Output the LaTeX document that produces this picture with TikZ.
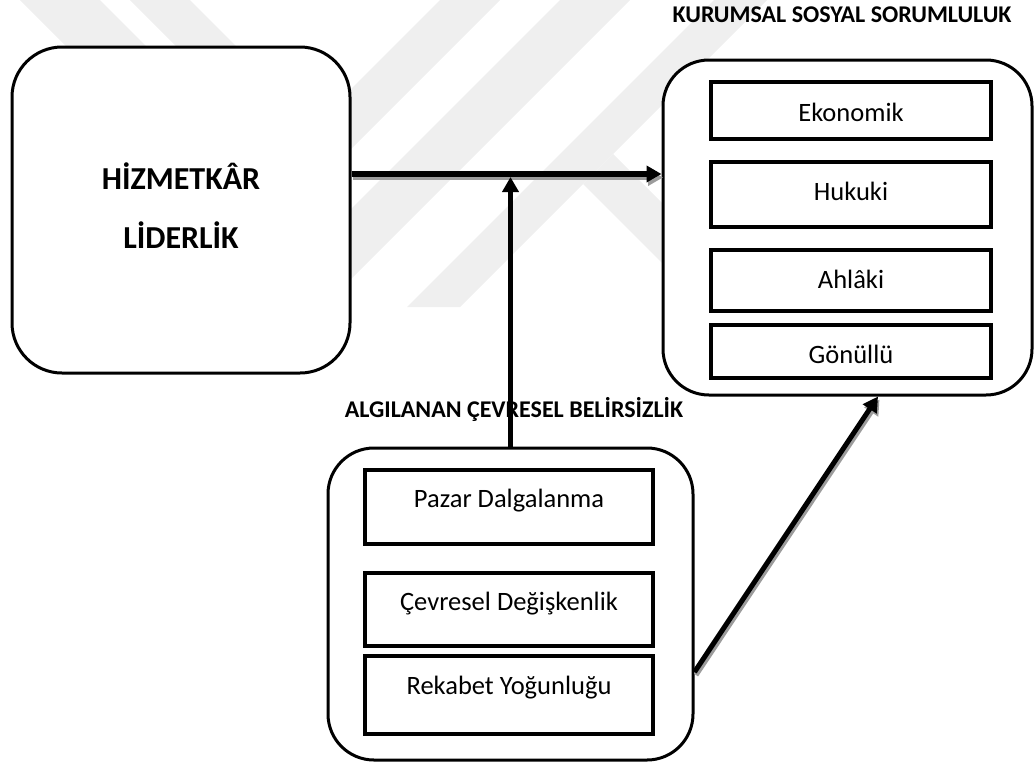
\documentclass[tikz,border=0pt]{standalone}
\usepackage{fontspec}
\setmainfont{Carlito}
\usetikzlibrary{arrows.meta,calc}
\definecolor{wm}{HTML}{EFEFEF}
\definecolor{shade}{HTML}{9C9C9C}

\begin{document}
\begin{tikzpicture}[x=1pt,y=-1pt,
  outerbox/.style={draw, line width=3pt, rounded corners=46pt, fill=white, inner sep=0pt},
  itembox/.style={draw, line width=3.5pt, fill=white, inner sep=0pt},
  itemtext/.style={anchor=base, inner sep=0pt, font=\fontsize{26.5}{30}\selectfont},
  titletext/.style={anchor=base, inner sep=0pt, font=\fontsize{24}{28}\selectfont\bfseries},
  bigtext/.style={anchor=base, inner sep=0pt, font=\fontsize{32}{36}\selectfont\bfseries},
  conn/.style={line width=5.5pt, -{Triangle[length=15pt,width=16pt]}},
  shadowconn/.style={conn, draw=shade, fill=shade}]

\useasboundingbox (0,0) rectangle (1036,764);

% faint background stripes
\begin{scope}
  \clip (0,0) rectangle (1036,764);
  \fill[wm] (20,0) -- (100,0) -- (147,47) -- (67,47) -- cycle;
  \fill[wm] (130,0) -- (190,0) -- (237,47) -- (177,47) -- cycle;
  \fill[wm] (440,0) -- (500,0) -- (350,150) -- (350,90) -- cycle;
  \fill[wm] (560,0) -- (630,0) -- (350,280) -- (350,210) -- cycle;
  \fill[wm] (714,0) -- (767,0) -- (460,307) -- (407,307) -- cycle;
  \fill[wm] (613,154) -- (583,184) -- (663,264) -- (663,204) -- cycle;
\end{scope}

% left block
\node[outerbox, minimum width=338pt, minimum height=326pt, rounded corners=50pt] (lbox) at (181,210) {};
\node[bigtext] (lt1) at (181,189) {HİZMETKÂR};
\node[bigtext] (lt2) at (181,248) {LİDERLİK};

% right block
\node[titletext] (rtitle) at (842,22) {KURUMSAL SOSYAL SORUMLULUK};
\node[outerbox, minimum width=369pt, minimum height=335pt] (rbox) at (847.5,227.5) {};
\node[itembox, minimum width=280pt, minimum height=57pt] (r1) at (851,110.5) {};
\node[itembox, minimum width=280pt, minimum height=65pt] (r2) at (851,194.5) {};
\node[itembox, minimum width=280pt, minimum height=61pt] (r3) at (851,280.5) {};
\node[itembox, minimum width=280pt, minimum height=53pt] (r4) at (851,351.5) {};
\node[itemtext] (r1t) at (851,121) {Ekonomik};
\node[itemtext] (r2t) at (851,200) {Hukuki};
\node[itemtext] (r3t) at (851,288) {Ahlâki};
\node[itemtext] (r4t) at (851,363) {Gönüllü};

% bottom block
\node[titletext] (btitle) at (514,417) {ALGILANAN ÇEVRESEL BELİRSİZLİK};
\node[outerbox, minimum width=365pt, minimum height=312pt] (bbox) at (510.5,604) {};
\node[itembox, minimum width=288pt, minimum height=74pt] (b1) at (509,507) {};
\node[itembox, minimum width=288pt, minimum height=73pt] (b2) at (509,609.5) {};
\node[itembox, minimum width=288pt, minimum height=78pt] (b3) at (509,695) {};
\node[itemtext] (b1t) at (509,507) {Pazar Dalgalanma};
\node[itemtext] (b2t) at (509,610) {Çevresel Değişkenlik};
\node[itemtext] (b3t) at (509,694) {Rekabet Yoğunluğu};

% connectors
\coordinate (hstart) at (lbox.east |- 0,174);
\coordinate (hend) at (rbox.west |- 0,174);
\coordinate (join) at (bbox.north |- 0,177);
\coordinate (dstart) at ($(bbox.east)+(0,68)$);
\coordinate (dend) at ($(rbox.south)+(30.5,0)$);

\draw[shadowconn] ($(hstart)+(1.5,3.5)$) -- ($(hend)+(1.5,3.5)$);
\draw[conn] (hstart) -- (hend);
\draw[conn, line width=5pt] (bbox.north) -- (join);
\draw[shadowconn, line width=5pt] ($(dstart)+(1.5,3)$) -- ($(dend)+(1.5,3)$);
\draw[conn, line width=5pt] (dstart) -- (dend);

\end{tikzpicture}
\end{document}
